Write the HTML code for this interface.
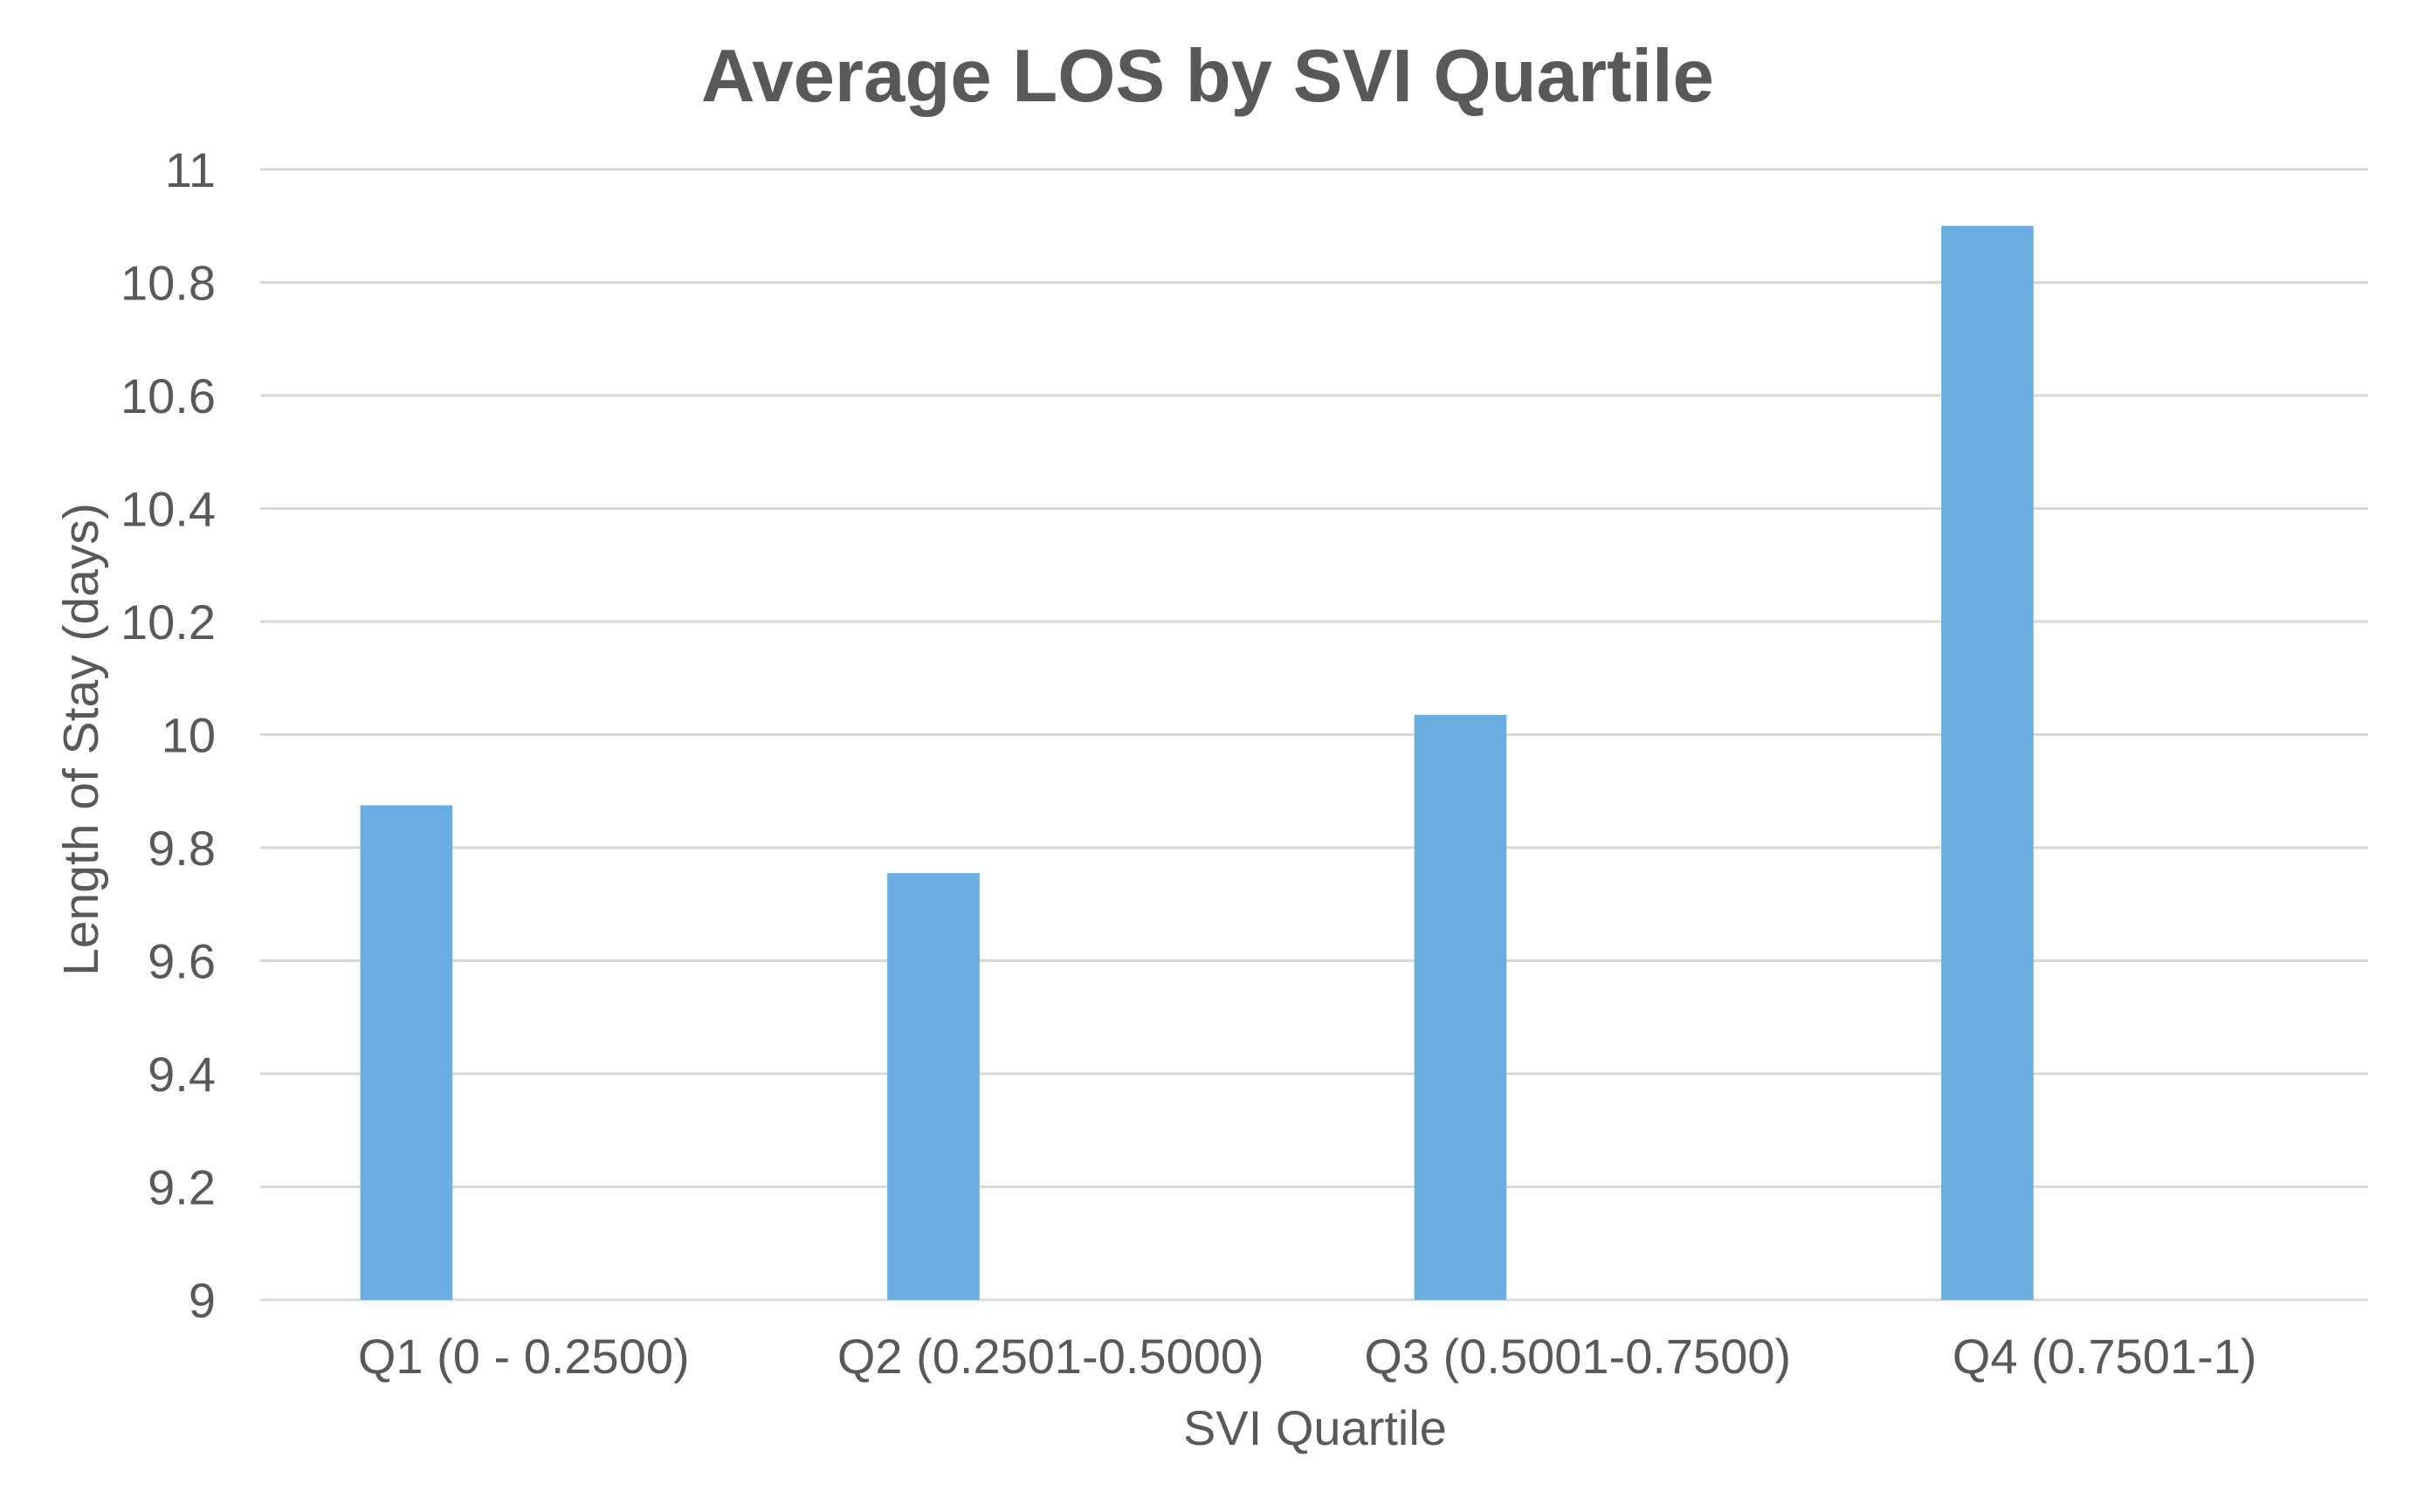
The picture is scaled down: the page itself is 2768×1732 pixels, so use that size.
<!DOCTYPE html>
<html><head><meta charset="utf-8"><style>
html,body{margin:0;padding:0;background:#fff;}
svg{display:block;font-family:"Liberation Sans",Arial,sans-serif;}
</style></head><body>
<svg id="chart" width="2768" height="1732" viewBox="0 0 2768 1732" xmlns="http://www.w3.org/2000/svg">
<rect width="2768" height="1732" fill="#fff"/>
<text x="1383" y="116" text-anchor="middle" font-size="85" font-weight="bold" fill="#595959" textLength="1160" lengthAdjust="spacingAndGlyphs">Average LOS by SVI Quartile</text>
<g id="grid"></g>
<g id="yticks"></g>
<g id="bars"></g>
<g id="xticks"></g>
<text transform="translate(112,847) rotate(-90)" text-anchor="middle" font-size="57" fill="#595959">Length of Stay (days)</text>
<text x="1506" y="1655" text-anchor="middle" font-size="56" fill="#595959">SVI Quartile</text>
</svg>
<script>
const categories = ["Q1 (0 - 0.2500)", "Q2 (0.2501-0.5000)", "Q3 (0.5001-0.7500)", "Q4 (0.7501-1)"];
const losValues = [9.875, 9.755, 10.035, 10.9];
const yTicks = [9, 9.2, 9.4, 9.6, 9.8, 10, 10.2, 10.4, 10.6, 10.8, 11];
const yTickLabels = ["9", "9.2", "9.4", "9.6", "9.8", "10", "10.2", "10.4", "10.6", "10.8", "11"];

const NS = "http://www.w3.org/2000/svg";
const plotL = 298, plotR = 2712, plotT = 194, plotB = 1489;
const yMin = 9, yMax = 11;
function yScale(v){ return plotB - (v - yMin) / (yMax - yMin) * (plotB - plotT); }
const band = (plotR - plotL) / categories.length;
function xBand(i){ return plotL + i * band; }

const grid = document.getElementById('grid');
const yt = document.getElementById('yticks');
yTicks.forEach((t, i) => {
  const y = yScale(t);
  const ln = document.createElementNS(NS, 'line');
  
  
  ln.setAttribute('x1', plotL); ln.setAttribute('x2', plotR);
  ln.setAttribute('y1', y); ln.setAttribute('y2', y);
  ln.setAttribute('stroke', '#d9d9d9'); ln.setAttribute('stroke-width', '3');
  grid.appendChild(ln);
  const tx = document.createElementNS(NS, 'text');
  
  
  tx.setAttribute('x', 247); tx.setAttribute('y', y + 20);
  tx.setAttribute('text-anchor', 'end');
  tx.setAttribute('font-size', '56'); tx.setAttribute('fill', '#595959');
  tx.textContent = yTickLabels[i];
  yt.appendChild(tx);
});

const bars = document.getElementById('bars');
const xt = document.getElementById('xticks');
const barOffset = 0.19 * band, barW = 0.175 * band;
categories.forEach((c, i) => {
  const x0 = xBand(i);
  const r = document.createElementNS(NS, 'rect');
  
  
  const y = yScale(losValues[i]);
  r.setAttribute('x', x0 + barOffset); r.setAttribute('width', barW);
  r.setAttribute('y', y); r.setAttribute('height', plotB - y);
  r.setAttribute('fill', '#6aade0');
  bars.appendChild(r);
  const tx = document.createElementNS(NS, 'text');
  
  
  tx.setAttribute('x', x0 + band / 2); tx.setAttribute('y', 1573);
  tx.setAttribute('text-anchor', 'middle');
  tx.setAttribute('font-size', '56'); tx.setAttribute('fill', '#595959');
  tx.textContent = c;
  xt.appendChild(tx);
});
</script>
</body></html>
